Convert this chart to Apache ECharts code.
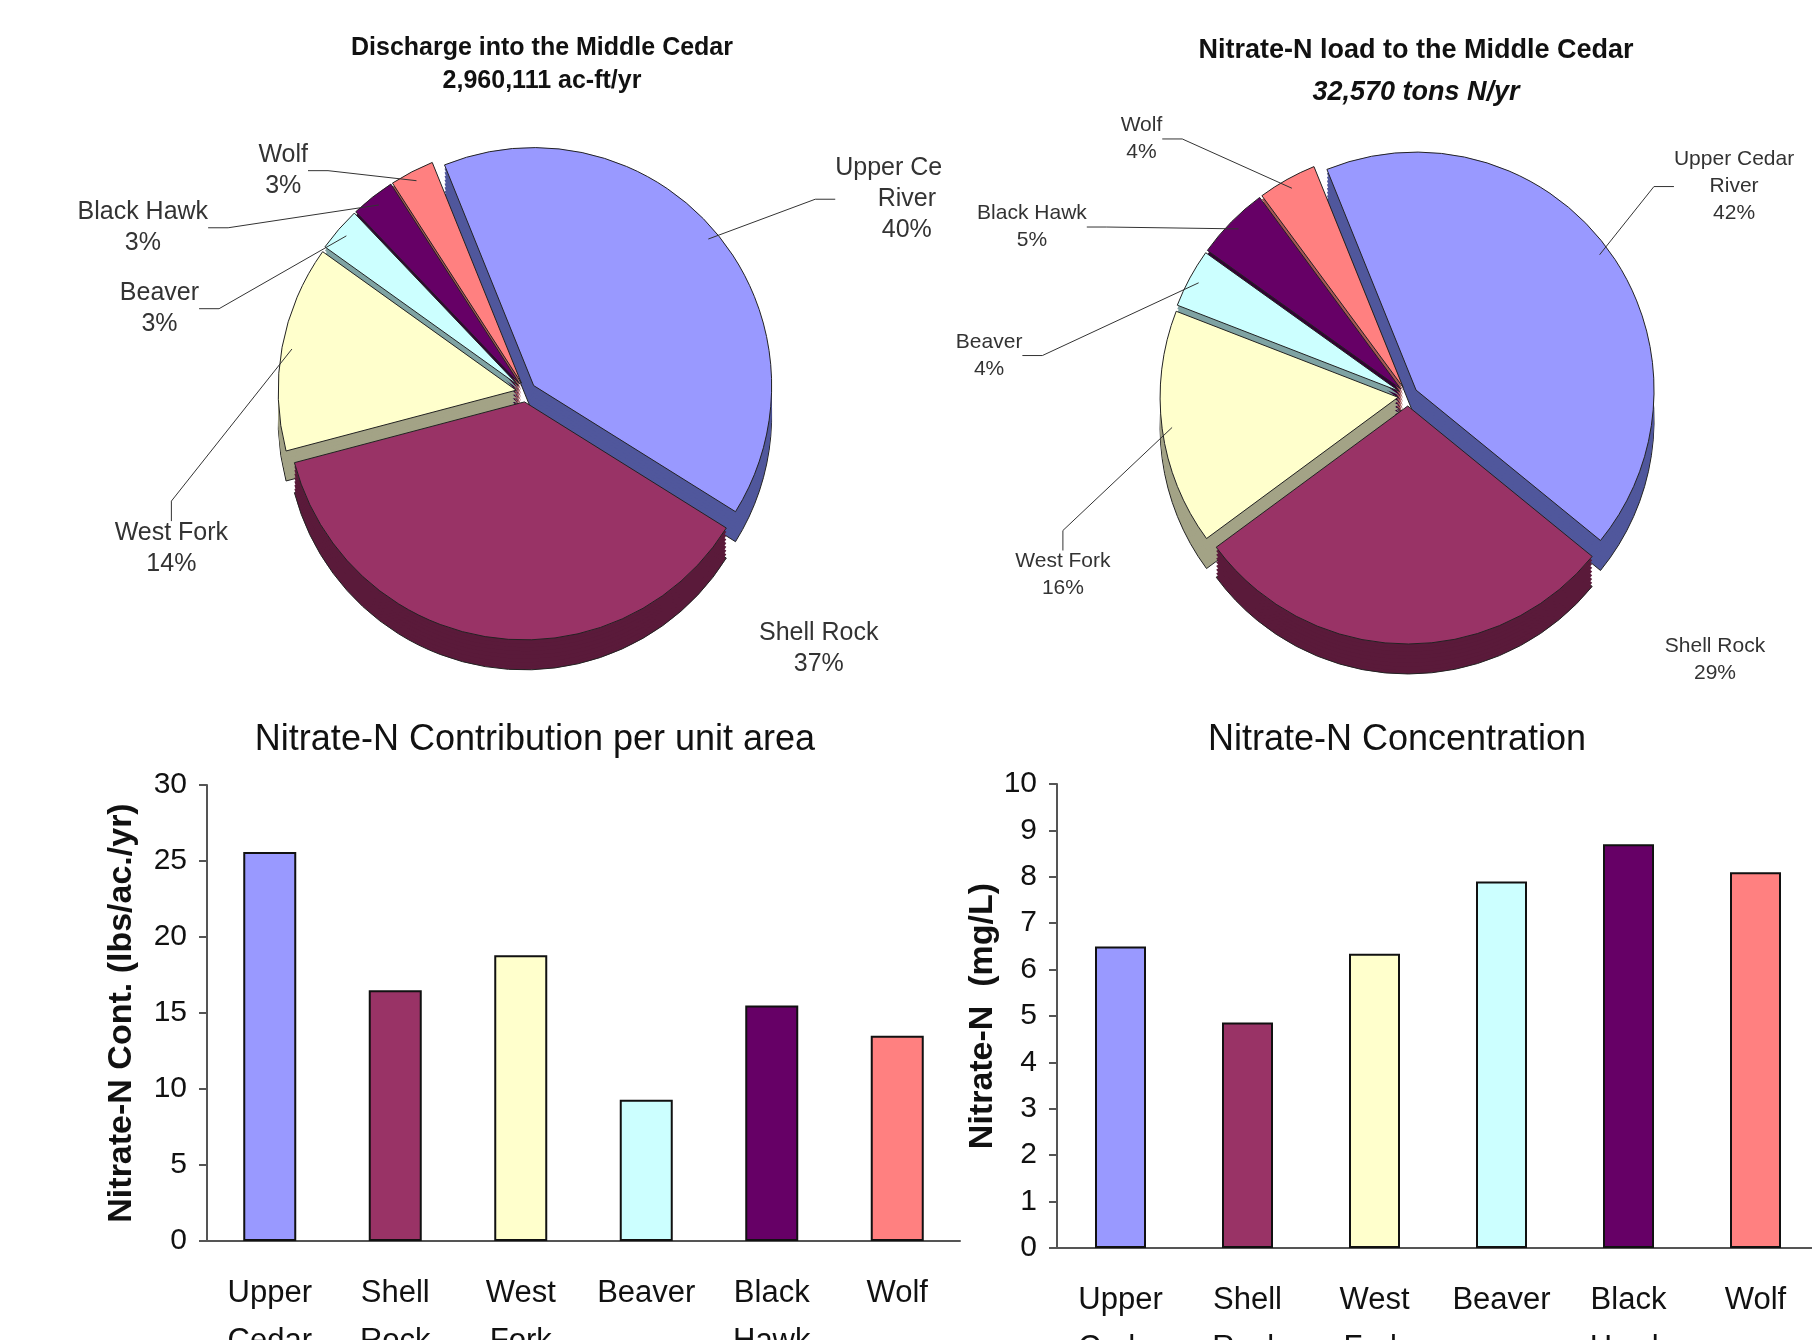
<!DOCTYPE html>
<html>
<head>
<meta charset="utf-8">
<title>Middle Cedar nitrate</title>
<script src="https://cdn.jsdelivr.net/npm/echarts@6.0.0/dist/echarts.min.js"></script>
<style>
html, body { margin: 0; padding: 0; background: #fff; }
#discharge-pie { position: absolute; left: 0; top: 0; width: 942px; height: 700px; }
#load-pie { position: absolute; left: 942px; top: 0; width: 870px; height: 700px; }
#unit-bars { position: absolute; left: 0; top: 680px; width: 1812px; height: 660px; }
</style>
</head>
<body>
<div id="discharge-pie"></div>
<div id="load-pie"></div>
<div id="unit-bars"></div>
<script>
/***** data *****/
var pieNames = ['Upper Cedar\nRiver', 'Shell Rock', 'West Fork', 'Beaver', 'Black Hawk', 'Wolf'];
var barNames = ['Upper\nCedar', 'Shell\nRock', 'West\nFork', 'Beaver', 'Black\nHawk', 'Wolf'];
var dischargePct = [40, 37, 14, 3, 3, 3];
var loadPct = [42, 29, 16, 4, 5, 4];
var contribution = [25.6, 16.5, 18.8, 9.3, 15.5, 13.5];
var concentration = [6.5, 4.86, 6.34, 7.9, 8.7, 8.1];
var contributionTicks = { min: 0, max: 30, interval: 5 };
var concentrationTicks = { min: 0, max: 10, interval: 1 };

var topColors = ['#9999FF', '#993366', '#FFFFCC', '#CCFFFF', '#660066', '#FF8080'];
var sideColors = ['#50579C', '#5A1A3A', '#A3A386', '#7FA3A3', '#330033', '#A65656'];
var FONT = 'Liberation Sans, Arial, sans-serif';

// where the slice labels sit, in pie radii from the centre (layout only)
var dischargeLabelSpots = [[1.60, -0.81], [1.23, 1.08], [-1.49, 0.66], [-1.54, -0.35], [-1.61, -0.69], [-1.02, -0.93]];
var loadLabelSpots = [[1.37, -0.88], [1.29, 1.11], [-1.45, 0.75], [-1.76, -0.17], [-1.58, -0.71], [-1.12, -1.08]];
var noLeaderLine = [1]; // Shell Rock label has no leader line

/***** pie helpers *****/
function pieData(values, colors, names, exploded) {
	return values.map(function (v, i) {
		var item = {
			name: names[i],
			value: v,
			selected: exploded,
			itemStyle: { color: colors[i] }
		};
		if (noLeaderLine.indexOf(i) >= 0) {
			item.labelLine = { show: false };
		}
		return item;
	});
}

function slicePie(values, colors, cx, cy, radius, z, border) {
	return {
		type: 'pie',
		center: [cx, cy],
		radius: radius,
		startAngle: 112,
		selectedMode: 'multiple',
		selectedOffset: 10,
		silent: true,
		z: z,
		data: pieData(values, colors, pieNames, true),
		itemStyle: { borderColor: '#222', borderWidth: border },
		label: { show: false },
		labelLine: { show: false },
		emphasis: { disabled: true }
	};
}

// fake 3d: darker copies shifted down, then the top face, then a see-through copy carrying the labels
function pieSeries(values, cx, cy, radius, depth, labelSize, spots) {
	var list = [];
	var layers = 8;
	for (var k = layers; k >= 1; k--) {
		list.push(slicePie(values, sideColors, cx, cy + depth * k / layers, radius, 1, k === layers ? 1 : 0));
	}
	list.push(slicePie(values, topColors, cx, cy, radius, 10, 1));
	list.push({
		type: 'pie',
		center: [cx, cy],
		radius: radius,
		startAngle: 112,
		silent: true,
		z: 11,
		data: pieData(values, ['transparent', 'transparent', 'transparent', 'transparent', 'transparent', 'transparent'], pieNames, false),
		itemStyle: { borderWidth: 0 },
		label: {
			formatter: '{t|{b}}\n{t|{c}%}',
			rich: {
				t: { align: 'center', fontFamily: FONT, fontSize: labelSize, lineHeight: labelSize + 6, color: '#333' }
			}
		},
		labelLine: { length: 20, length2: 20, lineStyle: { color: '#333', width: 1 } },
		labelLayout: function (p) {
			var s = spots[p.dataIndex];
			return { x: cx + s[0] * radius, y: cy + s[1] * radius, align: 'center', verticalAlign: 'middle' };
		},
		emphasis: { disabled: true }
	});
	return list;
}

/***** discharge pie *****/
var dischargeChart = echarts.init(document.getElementById('discharge-pie'));
dischargeChart.setOption({
	animation: false,
	title: {
		text: 'Discharge into the Middle Cedar',
		subtext: '2,960,111 ac-ft/yr',
		left: 537,
		top: 29,
		textAlign: 'center',
		itemGap: 5,
		textStyle: { fontFamily: FONT, fontSize: 25, fontWeight: 'bold', color: '#111', lineHeight: 28 },
		subtextStyle: { fontFamily: FONT, fontSize: 25, fontWeight: 'bold', color: '#111', lineHeight: 28 }
	},
	series: pieSeries(dischargePct, 526, 392, 238, 30, 25, dischargeLabelSpots)
});

/***** load pie *****/
var loadChart = echarts.init(document.getElementById('load-pie'));
loadChart.setOption({
	animation: false,
	title: {
		text: 'Nitrate-N load to the Middle Cedar',
		subtext: '32,570 tons N/yr',
		left: 469,
		top: 31,
		textAlign: 'center',
		itemGap: 12,
		textStyle: { fontFamily: FONT, fontSize: 27, fontWeight: 'bold', color: '#111', lineHeight: 30 },
		subtextStyle: { fontFamily: FONT, fontSize: 27, fontWeight: 'bold', fontStyle: 'italic', color: '#111', lineHeight: 30 }
	},
	series: pieSeries(loadPct, 466, 396, 238, 30, 21, loadLabelSpots)
});

/***** bar charts *****/
function catAxis(gridIndex) {
	return {
		type: 'category',
		gridIndex: gridIndex,
		data: barNames,
		axisLine: { lineStyle: { color: '#555', width: 2 } },
		axisTick: { length: 9, lineStyle: { color: '#555', width: 2 } },
		axisLabel: { interval: 0, fontFamily: FONT, fontSize: 31, lineHeight: 48, margin: 28, color: '#111' }
	};
}

function valAxis(gridIndex, ticks, name, gap) {
	return {
		type: 'value',
		gridIndex: gridIndex,
		min: ticks.min,
		max: ticks.max,
		interval: ticks.interval,
		name: name,
		nameLocation: 'middle',
		nameGap: gap,
		nameTextStyle: { fontFamily: FONT, fontSize: 34, fontWeight: 'bold', color: '#111' },
		splitLine: { show: false },
		axisLine: { show: true, lineStyle: { color: '#555', width: 2 } },
		axisTick: { show: true, length: 8, lineStyle: { color: '#555', width: 2 } },
		axisLabel: { fontFamily: FONT, fontSize: 30, margin: 20, color: '#111' }
	};
}

function barItems(values) {
	return values.map(function (v, i) {
		return { value: v, itemStyle: { color: topColors[i] } };
	});
}

var barChart = echarts.init(document.getElementById('unit-bars'));
barChart.setOption({
	animation: false,
	title: [
		{
			text: 'Nitrate-N Contribution per unit area', left: 530, top: 37, textAlign: 'center',
			textStyle: { fontFamily: FONT, fontSize: 36, fontWeight: 'normal', color: '#111' }
		},
		{
			text: 'Nitrate-N Concentration', left: 1392, top: 37, textAlign: 'center',
			textStyle: { fontFamily: FONT, fontSize: 36, fontWeight: 'normal', color: '#111' }
		}
	],
	grid: [
		{ left: 207, top: 105, width: 753, height: 456, outerBoundsMode: 'none' },
		{ left: 1057, top: 104, width: 762, height: 464, outerBoundsMode: 'none' }
	],
	xAxis: [catAxis(0), catAxis(1)],
	yAxis: [
		valAxis(0, contributionTicks, 'Nitrate-N Cont. (lbs/ac./yr)', 68),
		valAxis(1, concentrationTicks, 'Nitrate-N  (mg/L)', 56)
	],
	series: [
		{
			type: 'bar', xAxisIndex: 0, yAxisIndex: 0, barWidth: 53,
			data: barItems(contribution),
			itemStyle: { borderColor: '#111', borderWidth: 2 },
			silent: true
		},
		{
			type: 'bar', xAxisIndex: 1, yAxisIndex: 1, barWidth: 51,
			data: barItems(concentration),
			itemStyle: { borderColor: '#111', borderWidth: 2 },
			silent: true
		}
	]
});
</script>
</body>
</html>
